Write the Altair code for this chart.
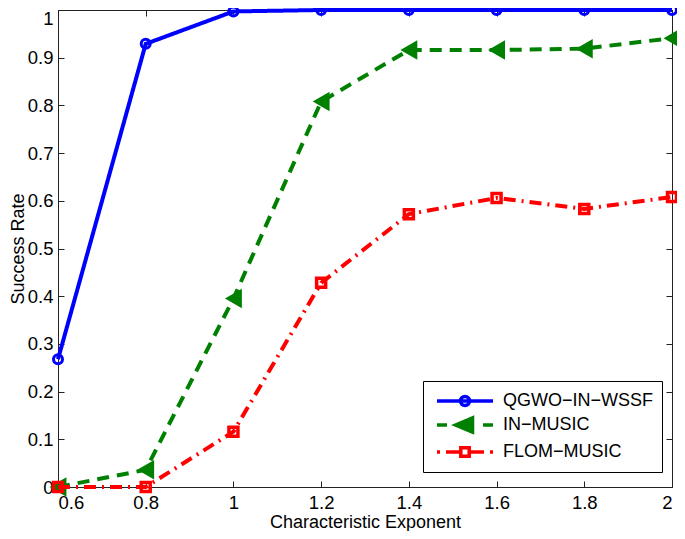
import altair as alt
import pandas as pd

# ---- data ----
alpha = [0.6, 0.8, 1.0, 1.2, 1.4, 1.6, 1.8, 2.0]
qgwo = [0.268, 0.929, 0.997, 1.0, 1.0, 1.0, 1.0, 1.0]
in_music = [0.0, 0.036, 0.395, 0.808, 0.916, 0.916, 0.919, 0.941]
flom = [0.0, 0.0, 0.116, 0.428, 0.572, 0.606, 0.583, 0.608]

series_names = ["QGWO−IN−WSSF", "IN−MUSIC", "FLOM−MUSIC"]
series_colors = ["#0000ff", "#008000", "#ff0000"]
x_ticks = [0.6, 0.8, 1.0, 1.2, 1.4, 1.6, 1.8, 2.0]
y_ticks = [0.0, 0.1, 0.2, 0.3, 0.4, 0.5, 0.6, 0.7, 0.8, 0.9, 1.0]

FONT = "Liberation Sans"

rows = []
for name, vals in zip(series_names, [qgwo, in_music, flom]):
    for a, v in zip(alpha, vals):
        rows.append({"alpha": a, "rate": v, "series": name})
df = pd.DataFrame(rows)

xs = alt.Scale(domain=[0.6, 2.0], nice=False, zero=False)
ys = alt.Scale(domain=[0.0, 1.0], nice=False, zero=False)

TICK = 6
TICK_COLOR = "#222222"
axis_common = dict(grid=False, domain=False, tickSize=TICK, offset=-TICK,
                   tickColor=TICK_COLOR, tickWidth=1,
                   labelFont=FONT, labelFontSize=18.5, labelColor="black",
                   titleFont=FONT, titleFontSize=18, titleColor="black",
                   titleFontWeight="normal")

x_axis = alt.Axis(orient="bottom", values=x_ticks, format="~g", labelPadding=6,
                  title="Characteristic Exponent", titleY=46,
                  titleBaseline="alphabetic", **axis_common)
y_axis = alt.Axis(orient="left", values=y_ticks, format="~g", labelPadding=5,
                  labelOffset={"condition": {"test": "datum.value >= 1", "value": 8}, "value": 0},
                  title="Success Rate", titleX=-41, titleBaseline="alphabetic",
                  **axis_common)
x_axis_top = alt.Axis(orient="top", values=x_ticks, labels=False, title=None,
                      grid=False, domain=False, tickSize=TICK, offset=-TICK,
                      tickColor=TICK_COLOR, tickWidth=1)
y_axis_right = alt.Axis(orient="right", values=y_ticks, labels=False, title=None,
                        grid=False, domain=False, tickSize=TICK, offset=-TICK,
                        tickColor=TICK_COLOR, tickWidth=1)

line_styles = [
    dict(strokeDash=[1, 0]),
    dict(strokeDash=[12, 8]),
    dict(strokeDash=[12, 6, 2, 6]),
]
point_styles = [
    dict(shape="circle", filled=False, size=81, strokeWidth=3),
    dict(shape="triangle-left", filled=True, size=380, strokeWidth=1),
    dict(shape="square", filled=False, size=81, strokeWidth=3.5),
]

base = alt.Chart(df)
layers = []
for i, (name, col) in enumerate(zip(series_names, series_colors)):
    first = i == 0
    sub = base.transform_filter(alt.datum.series == name)
    line = sub.mark_line(color=col, strokeWidth=4, strokeCap="butt",
                         **line_styles[i]).encode(
        x=alt.X("alpha:Q", scale=xs, axis=x_axis if first else None),
        y=alt.Y("rate:Q", scale=ys, axis=y_axis if first else None),
    )
    pts = sub.mark_point(color=col, opacity=1, **point_styles[i]).encode(
        x=alt.X("alpha:Q", scale=xs, axis=None),
        y=alt.Y("rate:Q", scale=ys, axis=None),
    )
    layers += [line, pts]

# legend symbols: line segment(s) + marker, unit = 10 px (symbolSize 400)
legend_paths = [
    "M-2.8,0L2.8,0M0.45,0A0.45,0.45 0 1,1 -0.45,0A0.45,0.45 0 1,1 0.45,0Z",
    "M-2.8,0L-1.8,0M1.8,0L2.8,0M-0.95,0L0.75,-0.72L0.75,0.72Z",
    "M-2.8,0L-2.5,0M-1.9,0L-0.45,0M0.45,0L1.9,0M2.5,0L2.8,0"
    "M-0.42,-0.42L0.42,-0.42L0.42,0.42L-0.42,0.42Z",
]
legend_fills = ["white", "#008000", "white"]

leg = alt.Legend(title=None, orient="none", legendX=365, legendY=371,
                 direction="vertical", fillColor="white", strokeColor="black",
                 padding=8, symbolSize=400, symbolStrokeWidth=3.5,
                 symbolOffset=22, labelOffset=26, rowPadding=-5,
                 labelFont=FONT, labelFontSize=18, labelColor="black")

legend_layer = base.transform_filter("datum.series == 'none'").mark_point(
    opacity=1).encode(
    x=alt.X("alpha:Q", scale=xs, axis=x_axis_top),
    y=alt.Y("rate:Q", scale=ys, axis=y_axis_right),
    shape=alt.Shape("series:N", scale=alt.Scale(domain=series_names, range=legend_paths), legend=leg),
    stroke=alt.Stroke("series:N", scale=alt.Scale(domain=series_names, range=series_colors), legend=leg),
    fill=alt.Fill("series:N", scale=alt.Scale(domain=series_names, range=legend_fills), legend=leg),
)
layers.append(legend_layer)

chart = alt.layer(*layers).resolve_axis(x="independent", y="independent").properties(
    width=614, height=477,
    padding={"left": 50, "top": 2, "right": 5, "bottom": 44},
    autosize=alt.AutoSizeParams(type="none"),
).configure_view(stroke="#222222", strokeWidth=1)

chart.save("out.html", embed_options={"renderer": "svg", "actions": False})
